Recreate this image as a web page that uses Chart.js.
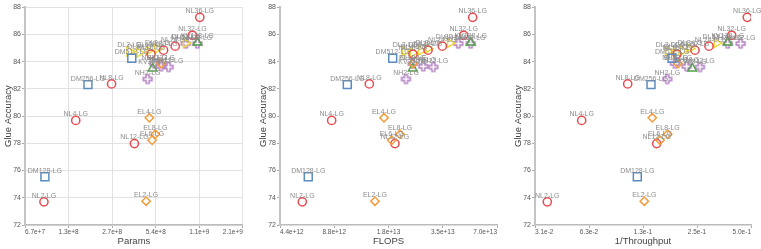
<!DOCTYPE html>
<html><head><meta charset="utf-8">
<script src="https://cdn.jsdelivr.net/npm/chart.js@4.4.1/dist/chart.umd.min.js"></script>
<style>
html,body{margin:0;padding:0;background:#fff;width:761px;height:249px;overflow:hidden}
canvas{position:absolute;top:0}
</style></head><body>
<canvas id="c1" width="250" height="249" style="left:0px"></canvas>
<canvas id="c2" width="255" height="249" style="left:250px"></canvas>
<canvas id="c3" width="256" height="249" style="left:505px"></canvas>
<script>
// ---- data ----
const nlNames   = ['NL2','NL4','NL8','NL12','NL16','NL20','NL24','NL32','NL36'];
const nlGlue    = [73.7, 79.68, 82.36, 77.98, 84.55, 84.84, 85.13, 85.93, 87.25];
const nlParams  = [9.07e7, 1.504e8, 2.659e8, 3.826e8, 4.986e8, 6.08e8, 7.32e8, 9.62e8, 1.082e9];
const nlFlops   = [5.85e12, 8.51e12, 1.377e13, 1.911e13, 2.406e13, 2.915e13, 3.499e13, 4.597e13, 5.158e13];
const nlInvTput = [0.0366, 0.0569, 0.1027, 0.149, 0.1934, 0.2437, 0.2916, 0.3903, 0.4767];

const dmNames   = ['DM128','DM256','DM512'];
const dmGlue    = [75.54, 82.31, 84.25];
const dmParams  = [9.21e7, 1.827e8, 3.667e8];
const dmFlops   = [6.31e12, 1.039e13, 1.856e13];
const dmInvTput = [0.1162, 0.1385, 0.1814];

const elNames   = ['EL2','EL4','EL6','EL8','EL12'];
const elGlue    = [73.75, 79.87, 78.22, 78.66, 83.85];
const elParams  = [4.605e8, 4.852e8, 5.065e8, 5.335e8, 5.84e8];
const elFlops   = [1.48e13, 1.661e13, 1.833e13, 2.038e13, 2.406e13];
const elInvTput = [0.1271, 0.1408, 0.1555, 0.1716, 0.1959];

const dlNames   = ['DL2','DL4','DL6','DL8','DL32'];
const dlGlue    = [84.75, 84.65, 84.8, 84.95, 85.35];
const dlParams  = [3.534e8, 4.143e8, 4.775e8, 5.508e8, 8.67e8];
const dlFlops   = [2.171e13, 2.406e13, 2.665e13, 2.915e13, 3.861e13];
const dlInvTput = [0.1723, 0.191, 0.2089, 0.2285, 0.322];

const kvNames   = ['KV32','KV128'];
const kvGlue    = [83.5, 85.4];
const kvParams  = [5.11e8, 1.042e9];
const kvFlops   = [2.397e13, 5.03e13];
const kvInvTput = [0.2354, 0.3709];

const nhNames   = ['NH2','NH4','NH8','NH12','NH24','NH32'];
const nhGlue    = [82.72, 83.85, 83.65, 83.6, 85.32, 85.32];
const nhParams  = [4.72e8, 5.25e8, 5.84e8, 6.586e8, 8.67e8, 1.042e9];
const nhFlops   = [2.2e13, 2.397e13, 2.744e13, 3.118e13, 4.292e13, 5.03e13];
const nhInvTput = [0.1707, 0.1886, 0.219, 0.2598, 0.3709, 0.438];

const paramTicks = [67108864, 134217728, 268435456, 536870912, 1073741824, 2147483648];
const flopTicks  = [4398046511104, 8796093022208, 17592186044416, 35184372088832, 70368744177664];
const tputTicks  = [0.03125, 0.0625, 0.125, 0.25, 0.5];
const yTicks = {min: 72, max: 88, step: 2};

// ---- styling ----
const FONT = '"Liberation Sans", Arial, Helvetica, sans-serif';
function crossImg(color){
  const c=document.createElement('canvas'); c.width=13; c.height=13;
  const g=c.getContext('2d'); g.translate(6.5,6.5);
  const s=4.4,a=1.5;
  g.beginPath();
  g.moveTo(-s,-a);g.lineTo(-a,-a);g.lineTo(-a,-s);g.lineTo(a,-s);g.lineTo(a,-a);g.lineTo(s,-a);
  g.lineTo(s,a);g.lineTo(a,a);g.lineTo(a,s);g.lineTo(-a,s);g.lineTo(-a,a);g.lineTo(-s,a);g.closePath();
  g.strokeStyle=color; g.lineWidth=1.4; g.stroke(); return c;
}
const families = [
  {names: dmNames, glue: dmGlue, p: dmParams, f: dmFlops, t: dmInvTput, color:'#5a8cc0', style:'rect', r:5.6, rot:0},
  {names: elNames, glue: elGlue, p: elParams, f: elFlops, t: elInvTput, color:'#f39c3a', style:'rectRot', r:4.2, rot:0},
  {names: nlNames, glue: nlGlue, p: nlParams, f: nlFlops, t: nlInvTput, color:'#e84a4f', style:'circle', r:4.1, rot:0},
  {names: kvNames, glue: kvGlue, p: kvParams, f: kvFlops, t: kvInvTput, color:'#54a24b', style:'triangle', r:5, rot:0},
  {names: dlNames, glue: dlGlue, p: dlParams, f: dlFlops, t: dlInvTput, color:'#efd83c', style:'triangle', r:5, rot:90},
  {names: nhNames, glue: nhGlue, p: nhParams, f: nhFlops, t: nhInvTput, color:'#b07cc0', style:'cross', r:5, rot:0}
];

const labelPlugin = {
  id:'ptlabels',
  afterDatasetsDraw(chart){
    const ctx=chart.ctx; ctx.save();
    ctx.font='7px '+FONT; ctx.fillStyle='#8c8c8c'; ctx.textAlign='center'; ctx.textBaseline='middle';
    chart.data.datasets.forEach((ds,i)=>{
      chart.getDatasetMeta(i).data.forEach((el,j)=>{ ctx.fillText(ds.data[j].label, el.x, el.y-6); });
    });
    ctx.restore();
  }
};

function makeChart(id, key, ticksArr, title, yWidth, padRight, showGrid, yTitlePad){
  const datasets = families.map(fam=>({
    data: fam.names.map((n,i)=>({x: fam[key][i], y: fam.glue[i], label: n+'-LG'})),
    pointStyle: fam.style==='cross' ? crossImg(fam.color) : fam.style,
    pointRadius: fam.r, pointRotation: fam.rot,
    borderColor: fam.color, backgroundColor:'rgba(0,0,0,0)', pointBorderWidth:1.5,
    showLine:false
  }));
  const gridColor = showGrid ? '#e2e2e2' : 'rgba(0,0,0,0)';
  return new Chart(document.getElementById(id), {
    type:'scatter',
    data:{datasets},
    options:{
      responsive:false, animation:false, devicePixelRatio:1,
      layout:{padding:{left:0,right:padRight,top:6,bottom:0}},
      plugins:{legend:{display:false}, tooltip:{enabled:false}},
      scales:{
        x:{
          type:'logarithmic', bounds:'data',
          min: ticksArr[0], max: ticksArr[ticksArr.length-1],
          afterBuildTicks: s=>{ s.ticks = ticksArr.map(v=>({value:v})); },
          afterFit: s=>{ s.height=24; s.paddingLeft=0; s.paddingRight=0; },
          ticks:{ callback: v=>Number(v).toExponential(1), align:'inner', autoSkip:false, maxRotation:0,
                  font:{size:6.5, family:FONT}, color:'#555', padding:0 },
          grid:{ color:gridColor, tickColor:'#aaa', tickLength:3, drawTicks:true },
          border:{ color:'#bbb', width:1.5 },
          title:{ display:true, text:title, color:'#444', font:{size:9.5, family:FONT}, padding:{top:0,bottom:2.3} }
        },
        y:{
          type:'linear', min:yTicks.min, max:yTicks.max,
          afterFit: s=>{ s.width=yWidth; s.paddingTop=0; s.paddingBottom=0; },
          ticks:{ stepSize:yTicks.step, font:{size:7, family:FONT}, color:'#555', padding:1 },
          grid:{ color:gridColor, tickColor:'#aaa', tickLength:3, drawTicks:true },
          border:{ color:'#c4c4c4', width:2 },
          title:{ display:true, text:'Glue Accuracy', color:'#444', font:{size:9.5, family:FONT}, padding:{top:yTitlePad,bottom:0} }
        }
      }
    },
    plugins:[labelPlugin]
  });
}
makeChart('c1','p',paramTicks,'Params',25,6,true,2.8);
makeChart('c2','f',flopTicks,'FLOPS',30,8,false,7.3);
makeChart('c3','t',tputTicks,'1/Throughput',30,10,false,7.3);
</script>
</body></html>
